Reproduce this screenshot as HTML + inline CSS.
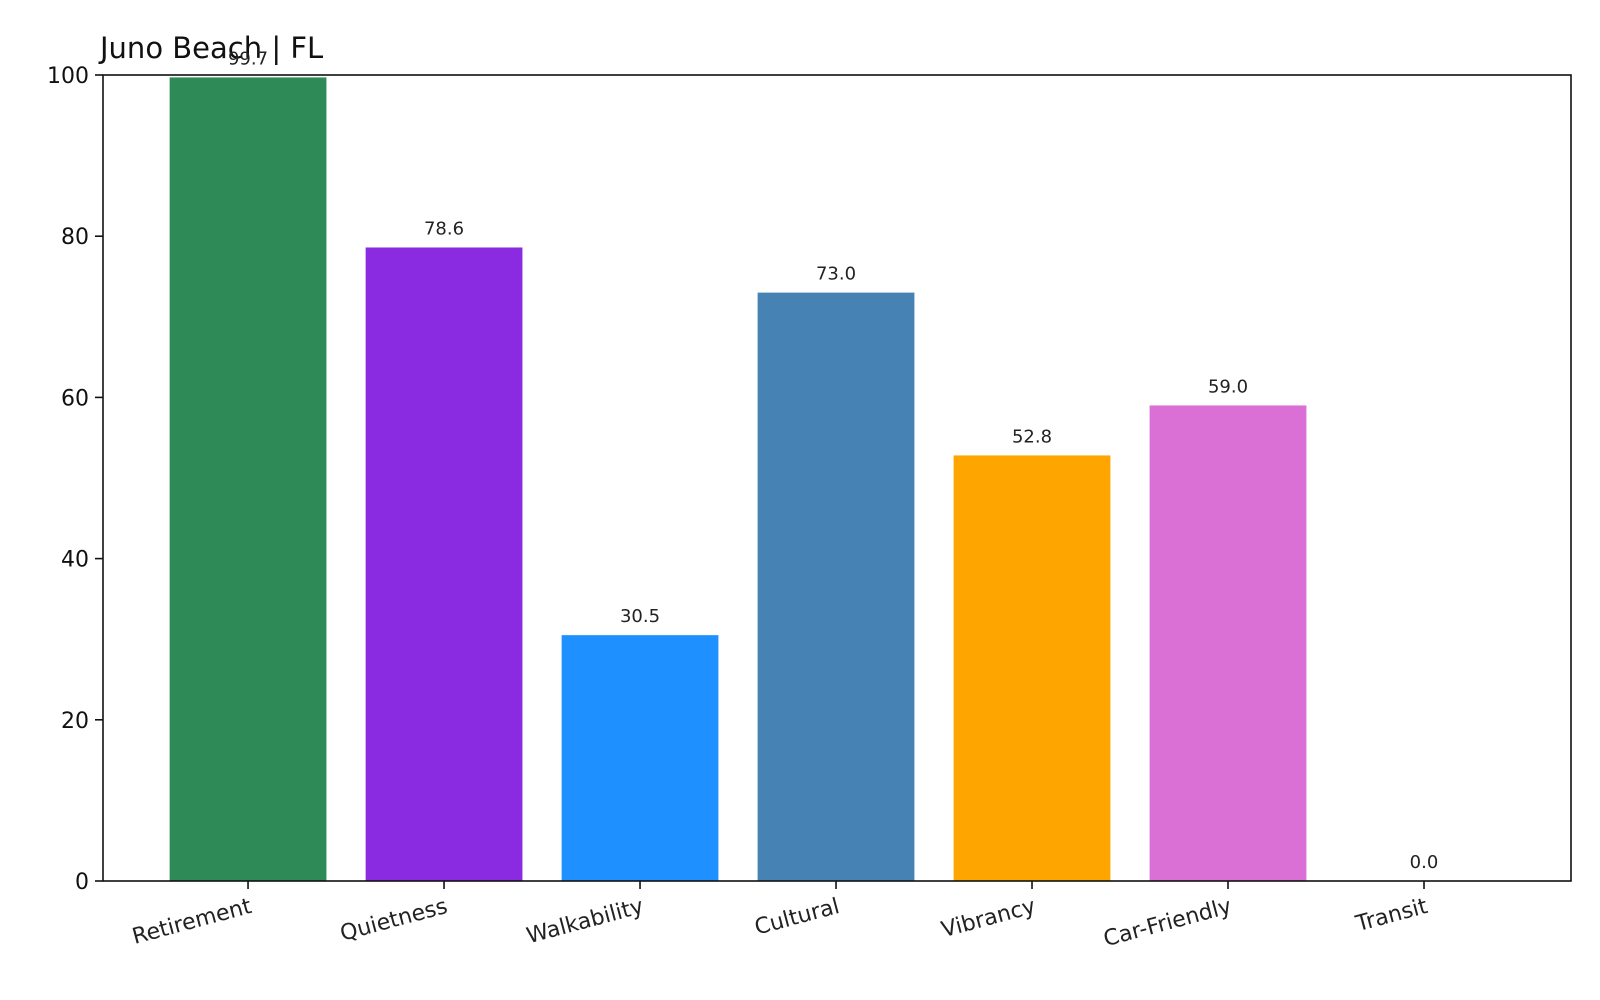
<!DOCTYPE html>
<html><head><meta charset="utf-8"><style>
html,body{margin:0;padding:0;background:#fff;}
svg{display:block;font-family:"DejaVu Sans","Liberation Sans",sans-serif;}
</style></head><body>
<svg id="chart" width="1600" height="1000">
<rect width="1600" height="1000" fill="#fff"/>
<text x="100" y="58" font-size="29" fill="#111">Juno Beach | FL</text>
<g id="bars"></g>
<g id="yaxis"></g>
<g id="xaxis"></g>
<rect x="103" y="75" width="1468" height="806" fill="none" stroke="#111" stroke-width="1.6"/>
</svg>
<script>
const categories = ["Retirement","Quietness","Walkability","Cultural","Vibrancy","Car-Friendly","Transit"];
const values = [99.7, 78.6, 30.5, 73.0, 52.8, 59.0, 0.0];
const colors = ["#2e8b57","#8a2be2","#1e90ff","#4682b4","#ffa500","#da70d6","#888888"];
const yTicks = [0,20,40,60,80,100];

const NS = "http://www.w3.org/2000/svg";
const L=103,R=1571,T=75,B=881;
const xMin=-0.74, xMax=6.75;
function x(i){return L+(i-xMin)/(xMax-xMin)*(R-L);}
function y(v){return B-v/100*(B-T);}
const bw=(x(0.8)-x(0));
function mk(tag,attrs,parent){const e=document.createElementNS(NS,tag);for(const k in attrs)e.setAttribute(k,attrs[k]);parent.appendChild(e);return e;}

const gb=document.getElementById('bars');
const gy=document.getElementById('yaxis');
const gx=document.getElementById('xaxis');

values.forEach((v,i)=>{
  const r=mk('rect',{x:x(i)-bw/2,y:y(v),width:bw,height:B-y(v),fill:colors[i]},gb);
  
  
  const t=mk('text',{x:x(i),y:y(v)-13,'text-anchor':'middle','font-size':18,fill:'#222'},gb);
  t.textContent=v.toFixed(1);
  
  
});

yTicks.forEach(v=>{
  const l=mk('line',{x1:L-8,x2:L,y1:y(v),y2:y(v),stroke:'#111','stroke-width':1.6},gy);
  
  
  const t=mk('text',{x:L-14,y:y(v)+8,'text-anchor':'end','font-size':22,fill:'#111'},gy);
  t.textContent=v;
  
  
});

categories.forEach((c,i)=>{
  const l=mk('line',{x1:x(i),x2:x(i),y1:B,y2:B+8,stroke:'#111','stroke-width':1.6},gx);
  
  
  const t=mk('text',{x:x(i),y:B+32,'text-anchor':'end','font-size':22,fill:'#222',transform:'rotate(-15 '+x(i)+' '+(B+14)+')'},gx);
  t.textContent=c;
  
  
});
</script>
</body></html>
